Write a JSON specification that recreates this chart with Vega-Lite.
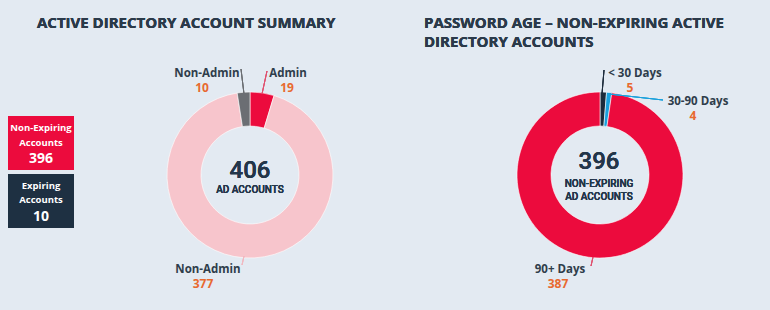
{
  "$schema": "https://vega.github.io/schema/vega-lite/v6.json",
  "width": 770,
  "height": 310,
  "autosize": {"type": "fit", "contains": "padding"},
  "padding": 0,
  "background": "#e3eaf2",
  "config": {"view": {"stroke": null}},
  "datasets": {
    "accounts": [
      {"segment": "Admin", "group": "Non-Expiring", "count": 19, "seq": 1},
      {"segment": "Non-Admin", "group": "Non-Expiring", "count": 377, "seq": 2},
      {"segment": "Non-Admin", "group": "Expiring", "count": 10, "seq": 3}
    ],
    "age": [
      {"band": "< 30 Days", "count": 5, "seq": 1},
      {"band": "30-90 Days", "count": 4, "seq": 2},
      {"band": "90+ Days", "count": 387, "seq": 3}
    ],
    "totals": [
      {"group": "Non-Expiring", "count": 396},
      {"group": "Expiring", "count": 10}
    ]
  },
  "data": {"name": "accounts"},
  "encoding": {
    "x": {"type": "quantitative", "scale": {"domain": [0, 770], "nice": false, "zero": false}, "axis": null},
    "y": {"type": "quantitative", "scale": {"domain": [0, 310], "nice": false, "zero": false, "reverse": true}, "axis": null}
  },
  "layer": [
    {
      "data": {"name": "accounts"},
      "transform": [{"calculate": "datum.segment + ' / ' + datum.group", "as": "key"}],
      "mark": {"type": "arc", "innerRadius": 49, "outerRadius": 83, "stroke": "#ffffff", "strokeWidth": 0.6},
      "encoding": {
        "x": {"datum": 250},
        "y": {"datum": 175},
        "theta": {"field": "count", "type": "quantitative", "stack": true},
        "order": {"field": "seq", "type": "quantitative"},
        "color": {"field": "key", "type": "nominal", "legend": null,
          "scale": {"domain": ["Admin / Non-Expiring", "Non-Admin / Non-Expiring", "Non-Admin / Expiring"], "range": ["#ec0b3d", "#f7c5cc", "#6b6e73"]}}
      }
    },
    {
      "data": {"name": "age"},
      "mark": {"type": "arc", "innerRadius": 49, "outerRadius": 83, "stroke": "#ffffff", "strokeWidth": 0.6},
      "encoding": {
        "x": {"datum": 600},
        "y": {"datum": 175},
        "theta": {"field": "count", "type": "quantitative", "stack": true},
        "order": {"field": "seq", "type": "quantitative"},
        "color": {"field": "band", "type": "nominal", "legend": null,
          "scale": {"domain": ["< 30 Days", "30-90 Days", "90+ Days"], "range": ["#1c2b3b", "#1aa1dc", "#ec0b3d"]}}
      }
    },
    {
      "mark": {"type": "text", "text": "ACTIVE DIRECTORY ACCOUNT SUMMARY", "font": "Open Sans", "fontWeight": "bold", "fontSize": 15, "color": "#2b3a4a", "align": "left", "baseline": "middle"},
      "encoding": {"x": {"datum": 37}, "y": {"datum": 23}}
    },
    {
      "mark": {"type": "text", "text": "PASSWORD AGE – NON-EXPIRING ACTIVE", "font": "Open Sans", "fontWeight": "bold", "fontSize": 15, "color": "#2b3a4a", "align": "left", "baseline": "middle"},
      "encoding": {"x": {"datum": 424}, "y": {"datum": 23}}
    },
    {
      "mark": {"type": "text", "text": "DIRECTORY ACCOUNTS", "font": "Open Sans", "fontWeight": "bold", "fontSize": 15, "color": "#2b3a4a", "align": "left", "baseline": "middle"},
      "encoding": {"x": {"datum": 424}, "y": {"datum": 42}}
    },
    {
      "data": {"name": "totals"},
      "transform": [{"filter": "datum.group === 'Non-Expiring'"}],
      "layer": [
        {"mark": {"type": "rect", "color": "#ec0b3d"},
         "encoding": {"x": {"datum": 8}, "x2": {"datum": 74}, "y": {"datum": 116}, "y2": {"datum": 170}}},
        {"mark": {"type": "text", "text": "Non-Expiring", "font": "Open Sans", "fontWeight": "bold", "fontSize": 9.5, "color": "#ffffff", "align": "center", "baseline": "middle"},
         "encoding": {"x": {"datum": 41}, "y": {"datum": 128}}},
        {"mark": {"type": "text", "text": "Accounts", "font": "Open Sans", "fontWeight": "bold", "fontSize": 9.5, "color": "#ffffff", "align": "center", "baseline": "middle"},
         "encoding": {"x": {"datum": 41}, "y": {"datum": 143}}},
        {"mark": {"type": "text", "font": "Open Sans", "fontWeight": "bold", "fontSize": 14, "color": "#ffffff", "align": "center", "baseline": "middle"},
         "encoding": {"x": {"datum": 41}, "y": {"datum": 159}, "text": {"field": "count"}}}
      ]
    },
    {
      "data": {"name": "totals"},
      "transform": [{"filter": "datum.group === 'Expiring'"}],
      "layer": [
        {"mark": {"type": "rect", "color": "#1e3042"},
         "encoding": {"x": {"datum": 8}, "x2": {"datum": 74}, "y": {"datum": 174}, "y2": {"datum": 228}}},
        {"mark": {"type": "text", "text": "Expiring", "font": "Open Sans", "fontWeight": "bold", "fontSize": 9.5, "color": "#ffffff", "align": "center", "baseline": "middle"},
         "encoding": {"x": {"datum": 41}, "y": {"datum": 186}}},
        {"mark": {"type": "text", "text": "Accounts", "font": "Open Sans", "fontWeight": "bold", "fontSize": 9.5, "color": "#ffffff", "align": "center", "baseline": "middle"},
         "encoding": {"x": {"datum": 41}, "y": {"datum": 200}}},
        {"mark": {"type": "text", "font": "Open Sans", "fontWeight": "bold", "fontSize": 14, "color": "#ffffff", "align": "center", "baseline": "middle"},
         "encoding": {"x": {"datum": 41}, "y": {"datum": 217}, "text": {"field": "count"}}}
      ]
    },
    {
      "mark": {"type": "text", "text": "406", "font": "Roboto", "fontWeight": 500, "fontSize": 24, "color": "#23364a", "align": "center", "baseline": "middle"},
      "encoding": {"x": {"datum": 250}, "y": {"datum": 171}}
    },
    {
      "mark": {"type": "text", "text": "AD ACCOUNTS", "font": "Roboto", "fontWeight": 500, "fontSize": 10, "color": "#23364a", "align": "center", "baseline": "middle"},
      "encoding": {"x": {"datum": 250}, "y": {"datum": 190}}
    },
    {
      "mark": {"type": "text", "text": "396", "font": "Roboto", "fontWeight": 500, "fontSize": 24, "color": "#23364a", "align": "center", "baseline": "middle"},
      "encoding": {"x": {"datum": 599}, "y": {"datum": 162}}
    },
    {
      "mark": {"type": "text", "text": "NON-EXPIRING", "font": "Roboto", "fontWeight": 500, "fontSize": 10, "color": "#23364a", "align": "center", "baseline": "middle"},
      "encoding": {"x": {"datum": 599}, "y": {"datum": 184}}
    },
    {
      "mark": {"type": "text", "text": "AD ACCOUNTS", "font": "Roboto", "fontWeight": 500, "fontSize": 10, "color": "#23364a", "align": "center", "baseline": "middle"},
      "encoding": {"x": {"datum": 599}, "y": {"datum": 197}}
    },
    {
      "mark": {"type": "rule", "color": "#6b6e73", "strokeWidth": 1},
      "encoding": {"x": {"datum": 241}, "y": {"datum": 69}, "x2": {"datum": 244}, "y2": {"datum": 94}}
    },
    {
      "mark": {"type": "rule", "color": "#e0506e", "strokeWidth": 1},
      "encoding": {"x": {"datum": 267}, "y": {"datum": 71}, "x2": {"datum": 262}, "y2": {"datum": 94}}
    },
    {
      "mark": {"type": "rule", "color": "#f2b8c0", "strokeWidth": 1},
      "encoding": {"x": {"datum": 244}, "y": {"datum": 256}, "x2": {"datum": 242}, "y2": {"datum": 265}}
    },
    {
      "mark": {"type": "rule", "color": "#1c2b3b", "strokeWidth": 1},
      "encoding": {"x": {"datum": 604}, "y": {"datum": 70}, "x2": {"datum": 602}, "y2": {"datum": 94}}
    },
    {
      "mark": {"type": "rule", "color": "#1aa1dc", "strokeWidth": 1},
      "encoding": {"x": {"datum": 609}, "y": {"datum": 94}, "x2": {"datum": 663}, "y2": {"datum": 100}}
    },
    {
      "mark": {"type": "rule", "color": "#e0506e", "strokeWidth": 1},
      "encoding": {"x": {"datum": 593}, "y": {"datum": 257}, "x2": {"datum": 591}, "y2": {"datum": 266}}
    },
    {
      "data": {"name": "accounts"},
      "transform": [{"filter": "datum.seq === 3"}],
      "layer": [
        {"mark": {"type": "text", "font": "Open Sans", "fontWeight": "bold", "fontSize": 11.5, "color": "#2f3d4b", "align": "center", "baseline": "middle"},
         "encoding": {"x": {"datum": 207}, "y": {"datum": 74}, "text": {"field": "segment"}}},
        {"mark": {"type": "text", "font": "Open Sans", "fontWeight": "bold", "fontSize": 12, "color": "#e8692f", "align": "center", "baseline": "middle"},
         "encoding": {"x": {"datum": 202}, "y": {"datum": 88}, "text": {"field": "count"}}}
      ]
    },
    {
      "data": {"name": "accounts"},
      "transform": [{"filter": "datum.seq === 1"}],
      "layer": [
        {"mark": {"type": "text", "font": "Open Sans", "fontWeight": "bold", "fontSize": 11.5, "color": "#2f3d4b", "align": "center", "baseline": "middle"},
         "encoding": {"x": {"datum": 288}, "y": {"datum": 74}, "text": {"field": "segment"}}},
        {"mark": {"type": "text", "font": "Open Sans", "fontWeight": "bold", "fontSize": 12, "color": "#e8692f", "align": "center", "baseline": "middle"},
         "encoding": {"x": {"datum": 287}, "y": {"datum": 88}, "text": {"field": "count"}}}
      ]
    },
    {
      "data": {"name": "accounts"},
      "transform": [{"filter": "datum.seq === 2"}],
      "layer": [
        {"mark": {"type": "text", "font": "Open Sans", "fontWeight": "bold", "fontSize": 11.5, "color": "#2f3d4b", "align": "center", "baseline": "middle"},
         "encoding": {"x": {"datum": 208}, "y": {"datum": 270}, "text": {"field": "segment"}}},
        {"mark": {"type": "text", "font": "Open Sans", "fontWeight": "bold", "fontSize": 12, "color": "#e8692f", "align": "center", "baseline": "middle"},
         "encoding": {"x": {"datum": 203}, "y": {"datum": 284}, "text": {"field": "count"}}}
      ]
    },
    {
      "data": {"name": "age"},
      "transform": [{"filter": "datum.seq === 1"}],
      "layer": [
        {"mark": {"type": "text", "font": "Open Sans", "fontWeight": "bold", "fontSize": 11.5, "color": "#2f3d4b", "align": "center", "baseline": "middle"},
         "encoding": {"x": {"datum": 635}, "y": {"datum": 74}, "text": {"field": "band"}}},
        {"mark": {"type": "text", "font": "Open Sans", "fontWeight": "bold", "fontSize": 12, "color": "#e8692f", "align": "center", "baseline": "middle"},
         "encoding": {"x": {"datum": 630}, "y": {"datum": 88}, "text": {"field": "count"}}}
      ]
    },
    {
      "data": {"name": "age"},
      "transform": [{"filter": "datum.seq === 2"}],
      "layer": [
        {"mark": {"type": "text", "font": "Open Sans", "fontWeight": "bold", "fontSize": 11.5, "color": "#2f3d4b", "align": "center", "baseline": "middle"},
         "encoding": {"x": {"datum": 698}, "y": {"datum": 102}, "text": {"field": "band"}}},
        {"mark": {"type": "text", "font": "Open Sans", "fontWeight": "bold", "fontSize": 12, "color": "#e8692f", "align": "center", "baseline": "middle"},
         "encoding": {"x": {"datum": 693}, "y": {"datum": 116}, "text": {"field": "count"}}}
      ]
    },
    {
      "data": {"name": "age"},
      "transform": [{"filter": "datum.seq === 3"}],
      "layer": [
        {"mark": {"type": "text", "font": "Open Sans", "fontWeight": "bold", "fontSize": 11.5, "color": "#2f3d4b", "align": "center", "baseline": "middle"},
         "encoding": {"x": {"datum": 560}, "y": {"datum": 270}, "text": {"field": "band"}}},
        {"mark": {"type": "text", "font": "Open Sans", "fontWeight": "bold", "fontSize": 12, "color": "#e8692f", "align": "center", "baseline": "middle"},
         "encoding": {"x": {"datum": 558}, "y": {"datum": 284}, "text": {"field": "count"}}}
      ]
    }
  ],
  "resolve": {"scale": {"theta": "independent", "color": "independent"}}
}
